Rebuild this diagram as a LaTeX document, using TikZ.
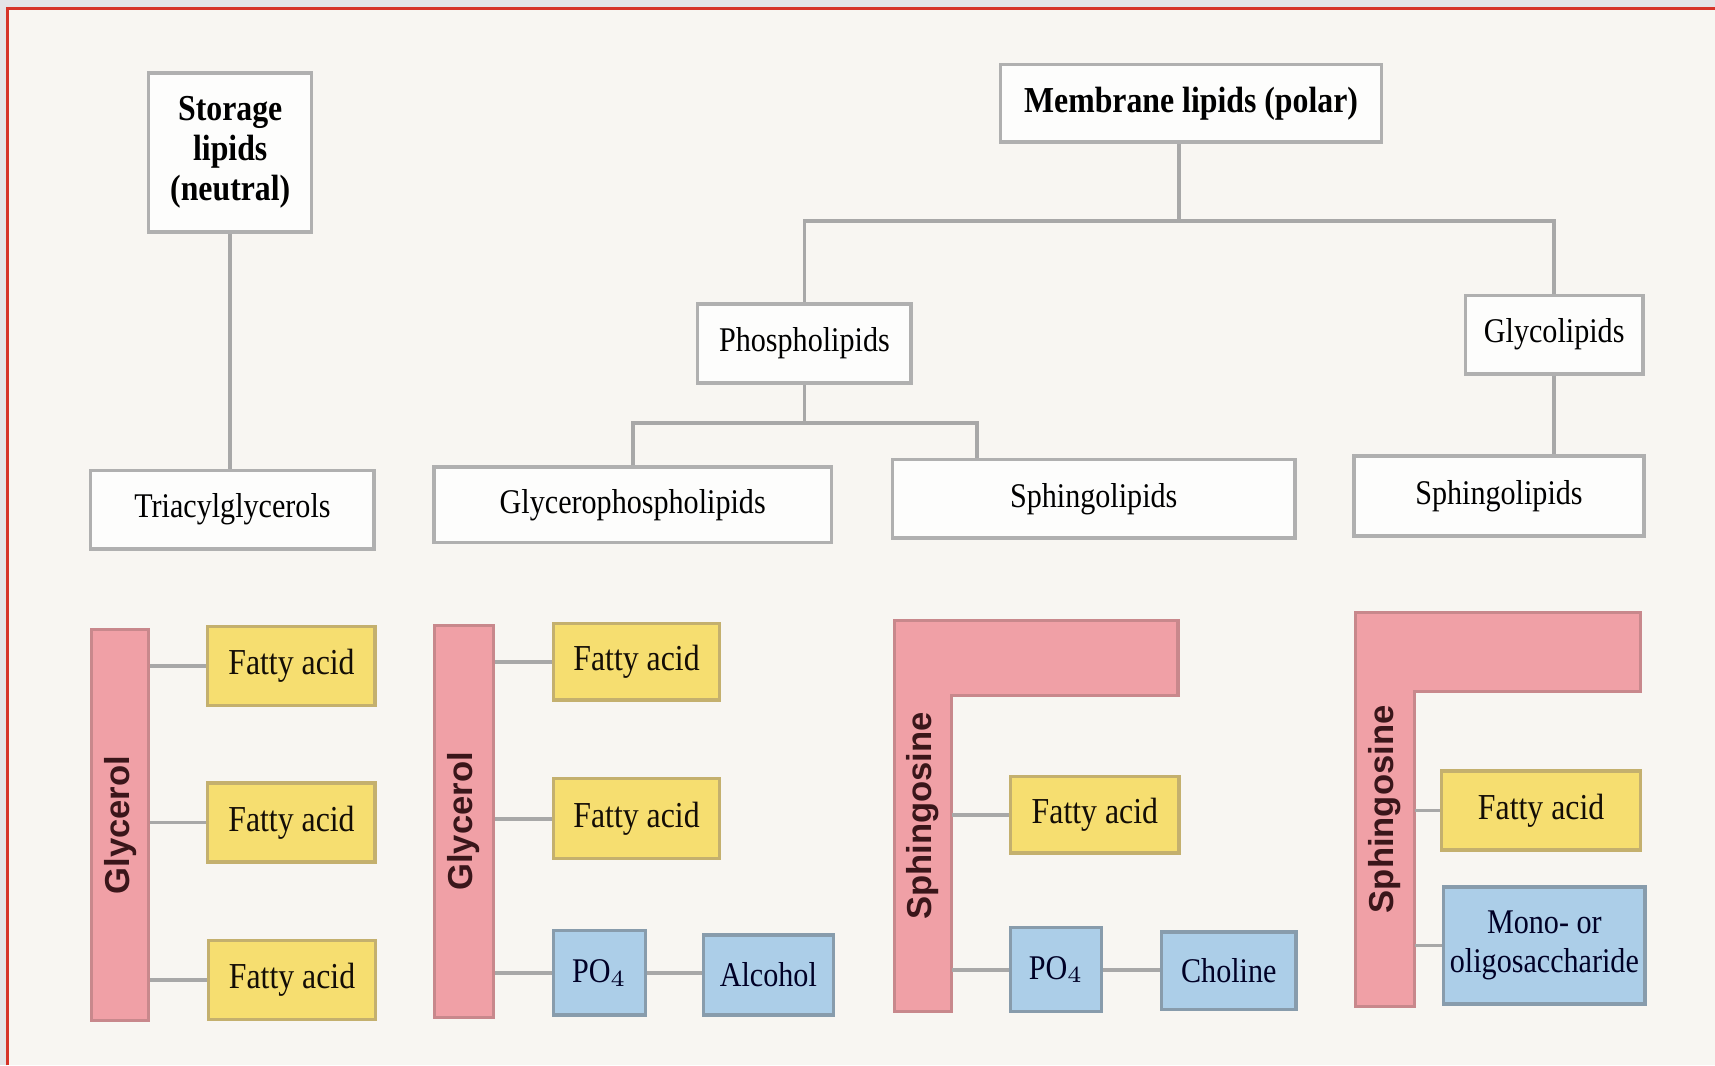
\documentclass[tikz,border=0pt]{standalone}
\usepackage{fontspec}
\setmainfont{Liberation Serif}[FakeStretch=0.87]
\newfontfamily\barfont{Liberation Sans}
\usetikzlibrary{positioning}

\definecolor{paper}{RGB}{248,246,242}
\definecolor{outside}{RGB}{228,228,230}
\definecolor{framered}{RGB}{214,52,40}
\definecolor{boxgray}{RGB}{176,176,176}
\definecolor{boxwhite}{RGB}{253,253,252}
\definecolor{linkgray}{RGB}{168,168,168}
\definecolor{fafill}{RGB}{246,222,112}
\definecolor{faedge}{RGB}{196,176,110}
\definecolor{pofill}{RGB}{172,206,232}
\definecolor{poedge}{RGB}{136,156,172}
\definecolor{barfill}{RGB}{240,160,166}
\definecolor{baredge}{RGB}{200,136,140}
\definecolor{bartext}{RGB}{58,22,26}

\tikzset{
  treebox/.style={rectangle, draw=boxgray, line width=0.9pt, fill=boxwhite,
    inner sep=0pt, align=center, font=\fontsize{9}{10.4}\selectfont},
  titlebox/.style={treebox, font=\fontsize{9.5}{10.4}\selectfont\bfseries},
  fabox/.style={rectangle, draw=faedge, line width=0.9pt, fill=fafill,
    inner sep=0pt, text=black!90!brown, font=\fontsize{9.5}{10.4}\selectfont},
  pobox/.style={rectangle, draw=poedge, line width=0.9pt, fill=pofill,
    inner sep=0pt, align=center, text=black!85!blue, font=\fontsize{9}{10.2}\selectfont},
  barbox/.style={rectangle, draw=baredge, line width=0.8pt, fill=barfill,
    inner sep=0pt, text=bartext, font=\fontsize{9}{10}\selectfont\barfont\bfseries},
  barlabel/.style={rectangle, inner sep=0pt, text=bartext,
    font=\fontsize{9}{10}\selectfont\barfont\bfseries},
  link/.style={draw=linkgray, line width=1pt}
}

\begin{document}
\begin{tikzpicture}[x=0.01cm, y=-0.01cm]
\useasboundingbox (0,0) rectangle (1568,974);
% page and frame
\fill[outside] (0,0) rectangle (1568,974);
\fill[paper] (7,8) rectangle (1568,974);
\draw[framered, line width=0.9pt] (7,974) -- (7,8) -- (1568,8);

% classification tree
\node[titlebox, minimum width=1.49cm, minimum height=1.45cm] (stor) at (210.5,139.5) {Storage\\lipids\\(neutral)};
\node[titlebox, minimum width=3.48cm, minimum height=0.71cm] (mem) at (1089,94.5) {Membrane lipids (polar)};
\node[treebox, minimum width=1.95cm, minimum height=0.72cm] (phos) at (735.5,314) {Phospholipids};
\node[treebox, minimum width=1.62cm, minimum height=0.72cm] (glyc) at (1421,306) {Glycolipids};
\node[treebox, minimum width=2.59cm, minimum height=0.72cm] (tri) at (212.5,466) {Triacylglycerols};
\node[treebox, minimum width=3.63cm, minimum height=0.69cm] (gpl) at (578.5,461.5) {Glycerophospholipids};
\node[treebox, minimum width=3.68cm, minimum height=0.72cm] (sph1) at (1000,456) {Sphingolipids};
\node[treebox, minimum width=2.65cm, minimum height=0.73cm] (sph2) at (1370.5,453.5) {Sphingolipids};

\coordinate (memjoin) at (1078,202);
\coordinate (phosjoin) at (735.5,387);
\coordinate (sphjoin) at (893,387);
\draw[link] (stor.south) -- (stor.south |- tri.north);
\draw[link] (memjoin |- mem.south) -- (memjoin);
\draw[link] (phos.north) |- (memjoin) -| (glyc.north);
\draw[link] (phos.south) -- (phosjoin);
\draw[link] (gpl.north) |- (phosjoin) -| (sph1.north -| sphjoin);
\draw[link] (glyc.south) -- (glyc.south |- sph2.north);

% triacylglycerol
\node[barbox, minimum width=0.52cm, minimum height=3.57cm] (gly1) at (110,754.5) {\rotatebox{90}{Glycerol}};
\node[fabox, minimum width=1.53cm, minimum height=0.72cm] (fa11) at (266.5,609) {Fatty acid};
\node[fabox, minimum width=1.53cm, minimum height=0.72cm] (fa12) at (266.5,752) {Fatty acid};
\node[fabox, minimum width=1.53cm, minimum height=0.72cm] (fa13) at (267,896) {Fatty acid};
\draw[link] (gly1.east |- fa11.west) -- (fa11.west);
\draw[link] (gly1.east |- fa12.west) -- (fa12.west);
\draw[link] (gly1.east |- fa13.west) -- (fa13.west);

% glycerophospholipid
\node[barbox, minimum width=0.54cm, minimum height=3.58cm] (gly2) at (424,751) {\rotatebox{90}{Glycerol}};
\node[fabox, minimum width=1.52cm, minimum height=0.70cm] (fa21) at (582,605) {Fatty acid};
\node[fabox, minimum width=1.52cm, minimum height=0.73cm] (fa22) at (582,748.5) {Fatty acid};
\node[pobox, minimum width=0.84cm, minimum height=0.77cm] (po2) at (548,889.5) {PO$_4$};
\node[pobox, minimum width=1.19cm, minimum height=0.73cm] (alc) at (702.5,891.5) {Alcohol};
\draw[link] (gly2.east |- fa21.west) -- (fa21.west);
\draw[link] (gly2.east |- fa22.west) -- (fa22.west);
\draw[link] (gly2.east |- po2.west) -- (po2.west);
\draw[link] (po2.east) -- (po2.east -| alc.west);

% sphingolipid with phosphocholine
\filldraw[fill=barfill, draw=baredge, line width=0.8pt]
  (818,567) -- (1077,567) -- (1077,636) -- (870,636) -- (870,925) -- (818,925) -- cycle;
\node[barlabel, minimum width=0.52cm, minimum height=3.58cm] (sgn1) at (844,746) {\rotatebox{90}{Sphingosine}};
\node[fabox, minimum width=1.54cm, minimum height=0.70cm] (fa3) at (1001,745) {Fatty acid};
\node[pobox, minimum width=0.83cm, minimum height=0.77cm] (po3) at (965.5,886.5) {PO$_4$};
\node[pobox, minimum width=1.23cm, minimum height=0.71cm] (cho) at (1123.5,887.5) {Choline};
\draw[link] (sgn1.east |- fa3.west) -- (fa3.west);
\draw[link] (sgn1.east |- po3.west) -- (po3.west);
\draw[link] (po3.east) -- (po3.east -| cho.west);

% glycosphingolipid
\filldraw[fill=barfill, draw=baredge, line width=0.8pt]
  (1239,560) -- (1500,560) -- (1500,632) -- (1293,632) -- (1293,920) -- (1239,920) -- cycle;
\node[barlabel, minimum width=0.54cm, minimum height=3.60cm] (sgn2) at (1266,740) {\rotatebox{90}{Sphingosine}};
\node[fabox, minimum width=1.82cm, minimum height=0.72cm] (fa4) at (1409,741) {Fatty acid};
\node[pobox, minimum width=1.84cm, minimum height=1.07cm] (sac) at (1412,864.5) {Mono- or\\oligosaccharide};
\draw[link] (sgn2.east |- fa4.west) -- (fa4.west);
\draw[link] (sgn2.east |- sac.west) -- (sac.west);
\end{tikzpicture}
\end{document}
